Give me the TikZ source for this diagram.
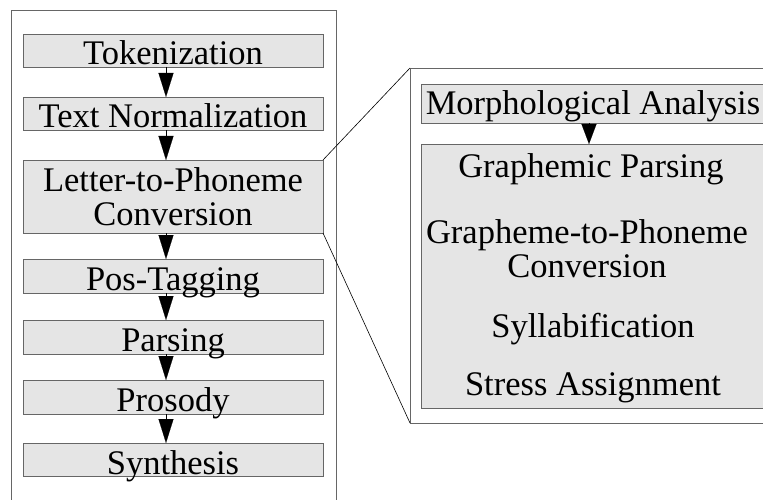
\documentclass[tikz,border=0pt]{standalone}
\usepackage{fontspec}
\setmainfont{Liberation Serif}
\usetikzlibrary{positioning, arrows.meta}

\newcommand{\stagefont}{\fontsize{34.5pt}{34pt}\selectfont}

\tikzset{
	box/.style={draw=black!60, fill=black!10, line width=0.8pt, inner sep=0pt, outer sep=0pt, align=center, font=\stagefont},
	stage/.style={box, minimum width=300pt, text height=31pt, text depth=2pt},
	frame/.style={draw=black!60, line width=0.8pt, inner sep=0pt, outer sep=0pt},
	label/.style={font=\stagefont, align=center, inner sep=0pt, anchor=base},
	flowtip/.style={-{Triangle[length=#1, width=15pt]}, line width=0.1pt},
	flowtip/.default=24pt
}

\begin{document}
\begin{tikzpicture}[x=1pt, y=1pt]
	\useasboundingbox (0,0) rectangle (763,499);
	\clip (0,0) rectangle (763,499);

	\node[frame, minimum width=325pt, minimum height=510pt] (main) at (173.5,234) {};
	\node[frame, minimum width=365pt, minimum height=355pt] (zoom) at (592.5,253.5) {};

	\node[stage, minimum height=33pt] (tok) at (173,448.5) {Tokenization};
	\node[stage, minimum height=32pt, below=30pt of tok] (norm) {Text Normalization};
	\node[box, minimum width=300pt, minimum height=73pt, below=30pt of norm] (ltp) {Letter-to-Phoneme\\Conversion};
	\node[stage, minimum height=34pt, below=26pt of ltp] (pos) {Pos-Tagging};
	\node[stage, minimum height=34pt, below=27pt of pos] (pars) {Parsing};
	\node[stage, minimum height=34pt, below=26pt of pars] (pros) {Prosody};
	\node[stage, minimum height=33pt, below=29pt of pros] (synth) {Synthesis};

	\node[box, minimum width=344pt, text height=31pt, text depth=8pt] (morph) at (593,395.5) {Morphological Analysis};
	\node[box, minimum width=344pt, minimum height=264pt, below=21pt of morph] (sub) {};

	\node[label] (gpars) at (591,322) {Graphemic Parsing};
	\node[label] (g2p) at (587,222) {Grapheme-to-Phoneme\\Conversion};
	\node[label] (syll) at (593,162) {Syllabification};
	\node[label] (stress) at (593,104) {Stress Assignment};

	\draw[flowtip] ([xshift=-7pt]tok.south) -- ([xshift=-7pt]norm.north);
	\draw[flowtip] ([xshift=-7pt]norm.south) -- ([xshift=-7pt]ltp.north);
	\draw[flowtip] ([xshift=-7pt]ltp.south) -- ([xshift=-7pt]pos.north);
	\draw[flowtip] ([xshift=-7pt]pos.south) -- ([xshift=-7pt]pars.north);
	\draw[flowtip] ([xshift=-7pt]pars.south) -- ([xshift=-7pt]pros.north);
	\draw[flowtip] ([xshift=-7pt]pros.south) -- ([xshift=-7pt]synth.north);
	\draw[flowtip=20pt] ([xshift=-4pt]morph.south) -- ([xshift=-4pt]sub.north);

	\draw[line width=0.6pt] (ltp.north east) -- (zoom.north west);
	\draw[line width=0.6pt] (ltp.south east) -- (zoom.south west);
\end{tikzpicture}
\end{document}
